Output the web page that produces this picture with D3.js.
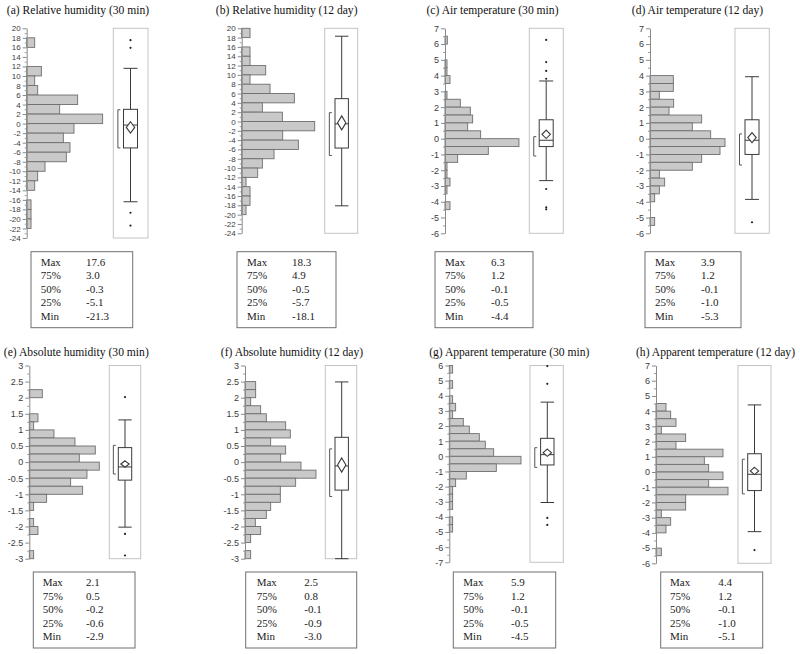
<!DOCTYPE html>
<html><head><meta charset="utf-8">
<script src="https://cdn.jsdelivr.net/npm/d3@7"></script>
<style>body{margin:0;background:#fff}</style>
</head><body><svg id="c" width="800" height="654"></svg>
<script>
// ---------- data ----------
const titles = [
  "(a) Relative humidity (30 min)", "(b) Relative humidity (12 day)",
  "(c) Air temperature (30 min)", "(d) Air temperature (12 day)",
  "(e) Absolute humidity (30 min)", "(f) Absolute humidity (12 day)",
  "(g) Apparent temperature (30 min)", "(h) Apparent temperature (12 day)"
];
const yMaxs = [20, 20, 7, 7, 3, 3, 6, 7];
const yMins = [-24, -24, -6, -6, -3, -3, -7, -6];
const binWidths = [2, 2, 0.5, 0.5, 0.25, 0.25, 0.5, 0.5];
const tickSteps = [2, 2, 1, 1, 0.5, 0.5, 1, 1];

// histogram frequencies, from the top bin downward
const countsA = [0, 24, 0, 0, 44, 24, 33, 153, 99, 228, 142, 110, 130, 119, 55, 33, 24, 0, 13, 13, 13, 0];
const countsB = [25, 0, 25, 25, 72, 25, 85, 158, 62, 122, 219, 123, 170, 97, 62, 48, 13, 25, 25, 13, 0, 0];
const countsC = [0, 7, 0, 0, 6, 6, 15, 0, 6, 46, 76, 83, 68, 107, 222, 130, 38, 6, 6, 15, 6, 0, 15, 0, 0, 0];
const countsD = [0, 0, 0, 0, 0, 0, 70, 70, 28, 71, 57, 155, 127, 182, 225, 210, 155, 127, 28, 44, 28, 14, 0, 0, 14, 0];
const countsE = [0, 0, 0, 39, 0, 0, 26, 13, 74, 137, 198, 150, 210, 173, 124, 160, 52, 13, 0, 13, 26, 0, 0, 13];
const countsF = [0, 0, 32, 32, 17, 47, 64, 122, 136, 77, 122, 107, 168, 213, 152, 106, 106, 77, 64, 31, 47, 17, 0, 17];
const countsG = [10, 0, 10, 0, 10, 19, 10, 42, 60, 90, 108, 133, 215, 141, 51, 19, 10, 10, 10, 0, 10, 10, 0, 0, 0, 0];
const countsH = [0, 0, 0, 0, 0, 30, 44, 60, 16, 89, 60, 201, 145, 158, 201, 158, 216, 89, 89, 16, 44, 30, 0, 0, 16, 0];
const counts = [countsA, countsB, countsC, countsD, countsE, countsF, countsG, countsH];
const countMax = [260, 249, 253, 255, 240, 241, 242, 246];

// box plot values
const whiskerLow  = [-16.4, -18.1, -2.66, -3.85, -2.02, -3.0, -3.05, -3.92];
const quart1      = [-5.1, -5.7, -0.5, -1.0, -0.56, -0.87, -0.57, -1.22];
const medians     = [-0.3, -0.5, -0.1, -0.1, -0.15, -0.12, 0.11, -0.15];
const quart3      = [3.0, 4.9, 1.2, 1.2, 0.45, 0.77, 1.19, 1.2];
const whiskerHigh = [11.6, 18.3, 3.66, 3.93, 1.31, 2.49, 3.58, 4.41];
const means       = [-0.8, -0.3, 0.28, 0.07, -0.06, -0.09, 0.24, 0.07];
const meanCI      = [1.2, 1.5, 0.27, 0.32, 0.1, 0.22, 0.24, 0.24];
const shortLow    = [-5.1, -7.3, -1.1, -1.67, -0.37, -1.07, -0.73, -1.44];
const shortHigh   = [2.9, 1.9, 0.13, 0.3, 0.52, 0.41, 0.57, 0.84];
const outliers = [
  [17.5, 15.9, -18.7, -21.4], [], [6.26, 4.86, 4.3, 3.8, -3.19, -4.35, -4.48], [-5.3],
  [2.02, -2.23, -2.9], [], [5.96, 4.79, -4.07, -4.53], [-5.13]
];

// summary tables
const statLabels = ["Max", "75%", "50%", "25%", "Min"];
const statValues = [
  ["17.6", "3.0", "-0.3", "-5.1", "-21.3"],
  ["18.3", "4.9", "-0.5", "-5.7", "-18.1"],
  ["6.3", "1.2", "-0.1", "-0.5", "-4.4"],
  ["3.9", "1.2", "-0.1", "-1.0", "-5.3"],
  ["2.1", "0.5", "-0.2", "-0.6", "-2.9"],
  ["2.5", "0.8", "-0.1", "-0.9", "-3.0"],
  ["5.9", "1.2", "-0.1", "-0.5", "-4.5"],
  ["4.4", "1.2", "-0.1", "-1.0", "-5.1"]
];

// ---------- layout ----------
const layout = [
  {axis: 26.7, div: 113.3, right: 148, top: 28.3, bot: 238, bc: 130.5, bhw: 7, tx: 78, ty: 14, tl: 31, tr: 132.7, tt: 251.7, tb: 327.7, lx: 40.7, vx: 86, fs: 8},
  {axis: 241.7, div: 324.7, right: 357.7, top: 28.3, bot: 233.3, bc: 341.7, bhw: 6.7, tx: 286.7, ty: 14, tl: 237, tr: 336, tt: 251.7, tb: 327.7, lx: 247, vx: 292, fs: 8},
  {axis: 445, div: 529.3, right: 563.3, top: 28.3, bot: 233.3, bc: 546.2, bhw: 7, tx: 492.5, ty: 14, tl: 435, tr: 533, tt: 251.7, tb: 327.7, lx: 445, vx: 491, fs: 9},
  {axis: 650, div: 735, right: 769.3, top: 28.3, bot: 233.3, bc: 752, bhw: 7, tx: 697.5, ty: 14, tl: 645, tr: 741, tt: 251.7, tb: 327.7, lx: 655, vx: 701, fs: 9},
  {axis: 29.3, div: 109.3, right: 140.7, top: 365.5, bot: 558.7, bc: 125, bhw: 6.7, tx: 76.3, ty: 356, tl: 33.3, tr: 135, tt: 572, tb: 648, lx: 42.7, vx: 86, fs: 9},
  {axis: 245, div: 325.3, right: 356.7, top: 365.5, bot: 558.7, bc: 341.7, bhw: 6.7, tx: 292, ty: 356, tl: 245.7, tr: 356.7, tt: 572, tb: 648, lx: 256.7, vx: 304.3, fs: 9},
  {axis: 449.3, div: 530, right: 563.3, top: 365.5, bot: 562.3, bc: 547.3, bhw: 6.7, tx: 509.3, ty: 356, tl: 453.3, tr: 555.7, tt: 572, tb: 648, lx: 463.3, vx: 511, fs: 9},
  {axis: 656, div: 738, right: 771, top: 365.5, bot: 563.3, bc: 754.5, bhw: 6.8, tx: 715.5, ty: 356, tl: 660.7, tr: 762.7, tt: 572, tb: 648, lx: 670, vx: 718.3, fs: 9}
];

const svg = d3.select("#c");
const fmt = d => String(Math.round(d * 100) / 100);
const ink = "#3a3a3a";

titles.forEach((title, i) => {
  const L = layout[i];
  const g = svg.append("g");
  const y = d3.scaleLinear().domain([yMins[i], yMaxs[i]]).range([L.bot, L.top]);
  const x = d3.scaleLinear().domain([0, countMax[i]]).range([L.axis, L.div]);

  // title
  g.append("text").attr("x", L.tx).attr("y", L.ty).attr("text-anchor", "middle")
    .attr("font-family", "Liberation Serif, Times New Roman, serif").attr("font-size", 11.6)
    .attr("fill", "#111").text(title);

  // box-plot frame
  g.append("rect").attr("x", L.div).attr("y", L.top).attr("width", L.right - L.div)
    .attr("height", L.bot - L.top).attr("fill", "none").attr("stroke", "#c4c4c4").attr("stroke-width", 1);

  // histogram bars
  const bw = binWidths[i];
  const bins = counts[i].map((c, k) => ({top: yMaxs[i] - k * bw, c}));
  g.selectAll("rect.bar").data(bins.filter(b => b.c > 0)).join("rect").attr("class", "bar")
    .attr("x", x(0)).attr("y", b => y(b.top))
    .attr("width", b => x(b.c) - x(0)).attr("height", b => y(b.top - bw) - y(b.top))
    .attr("fill", "#c9c9c9").attr("stroke", "#6e6e6e").attr("stroke-width", 0.9);

  // y axis: major + minor ticks
  const step = tickSteps[i];
  const majors = d3.range(0, Math.round((yMaxs[i] - yMins[i]) / step) + 1).map(k => yMins[i] + k * step);
  const minors = majors.slice(0, -1).map(v => v + step / 2);
  const axMinor = g.append("g").attr("transform", `translate(${L.axis},0)`)
    .call(d3.axisLeft(y).tickValues(minors).tickSize(2).tickFormat(""));
  axMinor.select(".domain").remove();
  axMinor.selectAll("line").attr("stroke", "#9a9a9a");
  const ax = g.append("g").attr("transform", `translate(${L.axis},0)`)
    .call(d3.axisLeft(y).tickValues(majors).tickSize(4).tickSizeOuter(0).tickPadding(2).tickFormat(fmt));
  ax.select(".domain").attr("stroke", "#8a8a8a");
  ax.selectAll("line").attr("stroke", "#8a8a8a");
  ax.selectAll("text").attr("font-family", "Liberation Sans, Arial, sans-serif").attr("font-size", L.fs).attr("fill", "#3c3c3c");

  // box plot
  const c = L.bc, hw = L.bhw;
  g.append("line").attr("x1", c).attr("x2", c).attr("y1", y(whiskerHigh[i])).attr("y2", y(whiskerLow[i]))
    .attr("stroke", ink).attr("stroke-width", 1);
  [whiskerHigh[i], whiskerLow[i]].forEach(v => {
    g.append("line").attr("x1", c - hw).attr("x2", c + hw).attr("y1", y(v)).attr("y2", y(v))
      .attr("stroke", ink).attr("stroke-width", 1);
  });
  g.append("rect").attr("x", c - hw).attr("y", y(quart3[i])).attr("width", 2 * hw)
    .attr("height", y(quart1[i]) - y(quart3[i])).attr("fill", "#fff").attr("stroke", ink).attr("stroke-width", 1);
  g.append("line").attr("x1", c - hw).attr("x2", c + hw).attr("y1", y(medians[i])).attr("y2", y(medians[i]))
    .attr("stroke", ink).attr("stroke-width", 1);
  // mean diamond
  const my = y(means[i]), dh = Math.abs(y(means[i] + meanCI[i]) - my), dw = 4.2;
  g.append("path").attr("d", `M${c},${my - dh}L${c + dw},${my}L${c},${my + dh}L${c - dw},${my}Z`)
    .attr("fill", "#fff").attr("stroke", ink).attr("stroke-width", 1.1);
  // shortest-half bracket
  const bx = L.div + (c - hw - L.div) * 0.45;
  g.append("path").attr("d", `M${bx + 2.5},${y(shortHigh[i])}H${bx}V${y(shortLow[i])}H${bx + 2.5}`)
    .attr("fill", "none").attr("stroke", "#555").attr("stroke-width", 1);
  // outliers
  g.selectAll("circle.out").data(outliers[i]).join("circle").attr("class", "out")
    .attr("cx", c).attr("cy", v => y(v)).attr("r", 1.1).attr("fill", "#222");

  // summary table
  g.append("rect").attr("x", L.tl).attr("y", L.tt).attr("width", L.tr - L.tl).attr("height", L.tb - L.tt)
    .attr("fill", "none").attr("stroke", "#6f6f6f").attr("stroke-width", 1);
  const rowY = k => L.tt + 11.6 + k * 13.5;
  statLabels.forEach((lab, k) => {
    g.append("text").attr("x", L.lx).attr("y", rowY(k)).attr("dominant-baseline", "middle")
      .attr("font-family", "Liberation Serif, Times New Roman, serif").attr("font-size", 11)
      .attr("fill", "#222").text(lab);
    g.append("text").attr("x", L.vx).attr("y", rowY(k)).attr("dominant-baseline", "middle")
      .attr("font-family", "Liberation Serif, Times New Roman, serif").attr("font-size", 11)
      .attr("fill", "#222").text(statValues[i][k]);
  });
});
</script>
</body></html>
